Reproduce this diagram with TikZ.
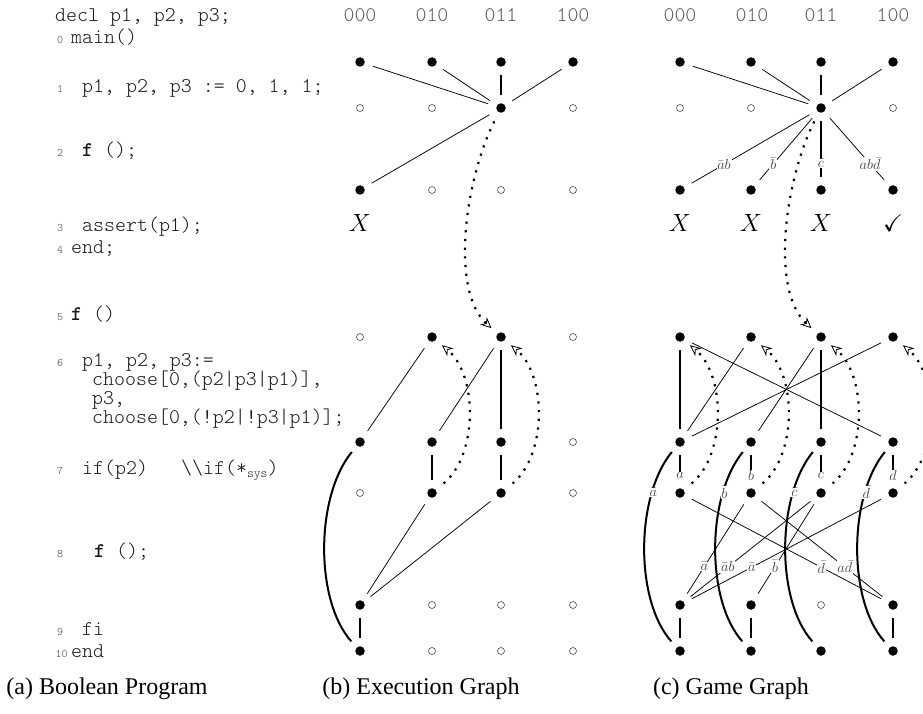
\documentclass[tikz,border=0pt]{standalone}
\usepackage{amssymb}
\usepackage{fontspec}
\newfontfamily\capfont{Liberation Serif}
\usetikzlibrary{arrows.meta}
\begin{document}
\begin{tikzpicture}[x=1pt,y=-1pt,
  fn/.style={circle,fill=black,inner sep=0pt,minimum size=9.5pt},
  en/.style={circle,draw=black!70,line width=0.6pt,fill=white,inner sep=0pt,minimum size=7pt},
  ln/.style={line width=0.75pt,shorten <=8.5pt,shorten >=8.5pt},
  tk/.style={line width=2.4pt,shorten <=8pt,shorten >=8pt},
  cv/.style={line width=2pt,shorten <=8pt,shorten >=8pt},
  dt/.style={line width=2.2pt,dash pattern=on 2.2pt off 6.5pt,shorten <=10pt,shorten >=8pt,
    -{Stealth[open,line width=0.8pt,length=11pt,width=10pt]}},
  lb/.style={fill=white,inner sep=0.8pt,text=black!75,font=\fontsize{15}{15}\selectfont},
  code/.style={anchor=base west,inner sep=0pt,text=black!90,font=\ttfamily\fontseries{l}\fontsize{20.9}{21}\selectfont},
  num/.style={anchor=base west,inner sep=0pt,text=black!75,font=\ttfamily\fontseries{l}\fontsize{11.5}{11.5}\selectfont},
  hdr/.style={anchor=base,inner sep=0pt,text=black!65,font=\ttfamily\fontseries{l}\fontsize{20.9}{21}\selectfont},
  mk/.style={anchor=base,inner sep=0pt,font=\fontsize{24}{24}\selectfont},
  captxt/.style={anchor=base,inner sep=0pt,font=\capfont\fontsize{24}{24}\selectfont}]
\path[use as bounding box] (0,0) rectangle (923,714);

% ---------- program text ----------
\node[code] (t0) at (55,22) {decl p1, p2, p3;};
\node[num] (n0) at (57,44) {0};   \node[code] (t1) at (71,44) {main()};
\node[num] (n1) at (57,93) {1};   \node[code] (t2) at (82,93) {p1, p2, p3 := 0, 1, 1;};
\node[num] (n2) at (57,157) {2};  \node[code] (t3) at (82,157) {{\fontseries{b}\selectfont f} ();};
\node[num] (n3) at (57,231) {3};  \node[code] (t4) at (82,231) {assert(p1);};
\node[num] (n4) at (57,253) {4};  \node[code] (t5) at (71,253) {end;};
\node[num] (n5) at (57,320) {5};  \node[code] (t6) at (71,320) {{\fontseries{b}\selectfont f} ()};
\node[num] (n6) at (57,366) {6};  \node[code] (t7) at (82,366) {p1, p2, p3:=};
\node[code] (t8) at (92,385) {choose[0,(p2|p3|p1)],};
\node[code] (t9) at (92,404) {p3,};
\node[code] (t10) at (92,423) {choose[0,(!p2|!p3|p1)];};
\node[num] (n7) at (57,474) {7};  \node[code] (t11) at (82,474) {if(p2)};
\node[code] (t12) at (181,474) {\textbackslash\textbackslash if(*\raisebox{-3pt}{\fontsize{13}{13}\selectfont sys})};
\node[num] (n8) at (57,557) {8};  \node[code] (t13) at (94,557) {{\fontseries{b}\selectfont f} ();};
\node[num] (n9) at (57,635) {9};  \node[code] (t14) at (82,635) {fi};
\node[num] (n10) at (55.5,657) {10}; \node[code] (t15) at (71,657) {end};

% ---------- headers ----------
\foreach \x/\k in {360/1,432/2,501/3,573/4} {
  \node[hdr] (hb\k) at (\x,22) {\ifcase\k\or 000\or 010\or 011\or 100\fi};
  \node[hdr] (hc\k) at (\x+320,22) {\ifcase\k\or 000\or 010\or 011\or 100\fi};
}

% ---------- nodes (b) ----------
\foreach \n/\x/\y/\s in {
  b11/360/62/fn,b12/432/62/fn,b13/501/62/fn,b14/573/62/fn,
  b21/360/108/en,b22/432/108/en,b23/501/108/fn,b24/573/108/en,
  b31/360/190/fn,b32/432/190/en,b33/501/190/en,b34/573/190/en,
  b41/360/337/en,b42/432/337/fn,b43/501/337/fn,b44/573/337/en,
  b51/360/442/fn,b52/432/442/fn,b53/501/442/fn,b54/573/442/en,
  b61/360/493/en,b62/432/493/fn,b63/501/493/fn,b64/573/493/en,
  b71/360/605/fn,b72/432/605/en,b73/501/605/en,b74/573/605/en,
  b81/360/651/fn,b82/432/651/en,b83/501/651/en,b84/573/651/en}
  \node[\s] (\n) at (\x,\y) {};

% ---------- nodes (c) ----------
\foreach \n/\x/\y/\s in {
  c11/680/62/fn,c12/751/62/fn,c13/821/62/fn,c14/893/62/fn,
  c21/680/108/en,c22/751/108/en,c23/821/108/fn,c24/893/108/en,
  c31/680/190/fn,c32/751/190/fn,c33/821/190/fn,c34/893/190/fn,
  c41/680/337/fn,c42/751/337/fn,c43/821/337/fn,c44/893/337/fn,
  c51/680/442/fn,c52/751/442/fn,c53/821/442/fn,c54/893/442/fn,
  c61/680/493/fn,c62/751/493/fn,c63/821/493/fn,c64/893/493/fn,
  c71/680/605/fn,c72/751/605/fn,c73/821/605/en,c74/893/605/fn,
  c81/680/651/fn,c82/751/651/fn,c83/821/651/fn,c84/893/651/fn}
  \node[\s] (\n) at (\x,\y) {};

% ---------- marks ----------
\node[mk] (xb1) at (360,231) {$X$};
\node[mk] (xc1) at (680,231) {$X$};
\node[mk] (xc2) at (751,231) {$X$};
\node[mk] (xc3) at (821,231) {$X$};
\node[mk] (xc4) at (893,231) {$\checkmark$};

% ---------- edges (b) ----------
\draw[ln] (b11) -- (b23);
\draw[ln] (b12) -- (b23);
\draw[tk] (b13) -- (b23);
\draw[ln] (b14) -- (b23);
\draw[ln] (b23) -- (b31);
\draw[dt] (b23) .. controls (465,180) and (450,290) .. (b43);
\draw[ln] (b42) -- (b51);
\draw[ln] (b43) -- (b52);
\draw[tk] (b43) -- (b53);
\draw[tk] (b52) -- (b62);
\draw[tk] (b53) -- (b63);
\draw[dt] (b62) .. controls +(46,-38) and +(46,38) .. (b42);
\draw[dt] (b63) .. controls +(46,-38) and +(46,38) .. (b43);
\draw[cv] (b51) .. controls +(-45,55) and +(-45,-50) .. (b81);
\draw[ln] (b62) -- (b71);
\draw[ln] (b63) -- (b71);
\draw[tk] (b71) -- (b81);

% ---------- edges (c) ----------
\draw[ln] (c11) -- (c23);
\draw[ln] (c12) -- (c23);
\draw[tk] (c13) -- (c23);
\draw[ln] (c14) -- (c23);
\draw[ln] (c23) -- node[lb,pos=.7] {$\bar a b$} (c31);
\draw[ln] (c23) -- node[lb,pos=.7] {$\bar b$} (c32);
\draw[tk] (c23) -- node[lb,pos=.7] {$\bar c$} (c33);
\draw[ln] (c23) -- node[lb,pos=.7] {$a b \bar d$} (c34);
\draw[dt] (c23) .. controls (785,180) and (770,290) .. (c43);

\draw[cv] (c51) .. controls +(-45,55) and +(-45,-50) .. node[lb,pos=.25] {$\bar a$} (c81);
\draw[cv] (c52) .. controls +(-45,55) and +(-45,-50) .. node[lb,pos=.25] {$\bar b$} (c82);
\draw[cv] (c53) .. controls +(-45,55) and +(-45,-50) .. node[lb,pos=.25] {$\bar c$} (c83);
\draw[cv] (c54) .. controls +(-45,55) and +(-45,-50) .. node[lb,pos=.25] {$\bar d$} (c84);

\draw[tk] (c41) -- (c51);
\draw[ln] (c41) -- (c54);
\draw[ln] (c42) -- (c51);
\draw[ln] (c43) -- (c52);
\draw[tk] (c43) -- (c53);
\draw[ln] (c44) -- (c51);

\draw[tk] (c51) -- node[lb,pos=.7] {$a$} (c61);
\draw[tk] (c52) -- node[lb,pos=.7] {$b$} (c62);
\draw[tk] (c53) -- node[lb,pos=.7] {$c$} (c63);
\draw[tk] (c54) -- node[lb,pos=.7] {$d$} (c64);

\draw[dt] (c61) .. controls +(46,-38) and +(46,38) .. (c41);
\draw[dt] (c62) .. controls +(46,-38) and +(46,38) .. (c42);
\draw[dt] (c63) .. controls +(46,-38) and +(46,38) .. (c43);
\draw[dt] (c64) .. controls +(46,-38) and +(46,38) .. (c44);

\draw[ln] (c62) -- node[lb,pos=.67] {$\bar a$} (c71);
\draw[ln] (c63) -- node[lb,pos=.67] {$\bar a b$} (c71);
\draw[ln] (c64) -- node[lb,pos=.67] {$\bar a$} (c71);
\draw[ln] (c63) -- node[lb,pos=.67] {$\bar b$} (c72);
\draw[ln] (c61) -- node[lb,pos=.67] {$\bar d$} (c74);
\draw[ln] (c62) -- node[lb,pos=.67] {$a\bar d$} (c74);

\draw[tk] (c71) -- (c81);
\draw[tk] (c72) -- (c82);
\draw[tk] (c74) -- (c84);

% ---------- captions ----------
\node[captxt] (capa) at (107,694) {(a) Boolean Program};
\node[captxt] (capb) at (421,694) {(b) Execution Graph};
\node[captxt] (capc) at (731,694) {(c) Game Graph};
\end{tikzpicture}
\end{document}
